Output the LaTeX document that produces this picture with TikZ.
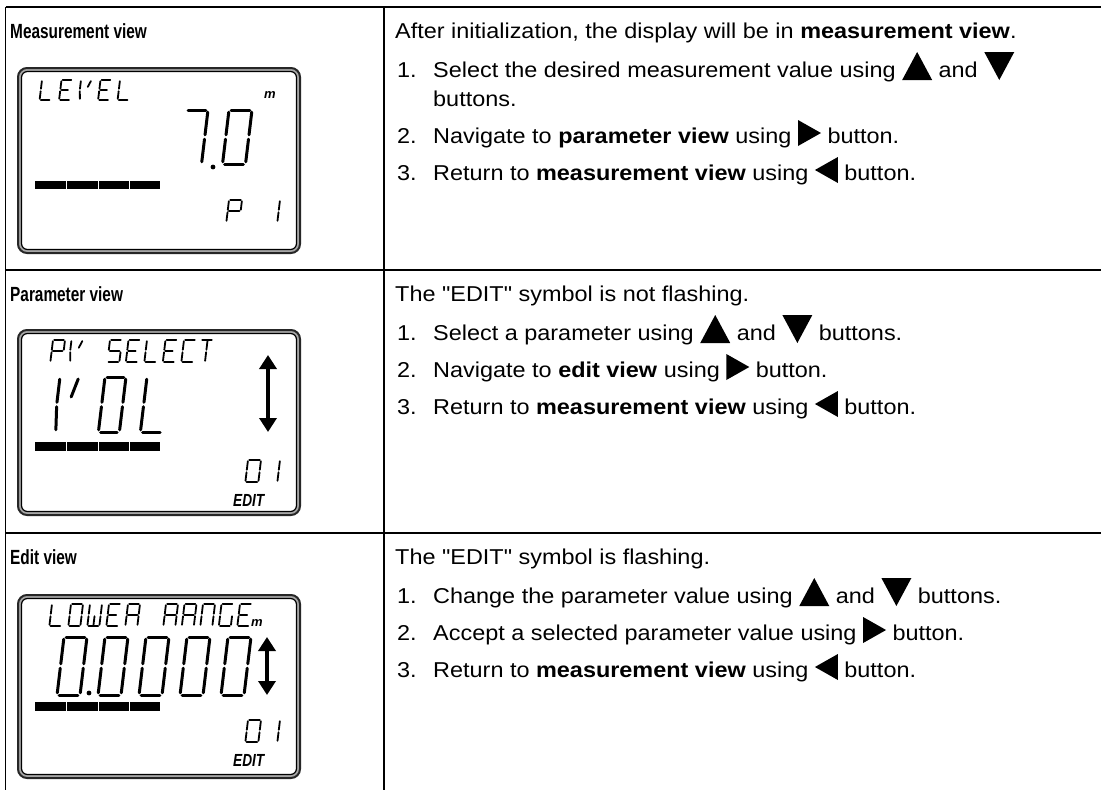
\documentclass[tikz,border=0pt]{standalone}
\usepackage{fontspec}
\setmainfont{Liberation Sans}
\newfontfamily\bodyfont[FakeStretch=1.09]{Liberation Sans}
\newfontfamily\narrowbold[FakeStretch=0.75]{Liberation Sans Bold}
\newfontfamily\editfont[FakeStretch=0.78]{Liberation Sans Bold Italic}
\usetikzlibrary{arrows.meta}

\tikzset{
  tbl/.style={line width=1.5pt, black},
  seg/.style={line width=1.8pt, line cap=round, line join=round, shorten <=1.2pt, shorten >=1.2pt},
  bigseg/.style={line width=3pt, line cap=round, line join=round, shorten <=2.2pt, shorten >=2.2pt},
  titletxt/.style={anchor=base west, inner sep=0pt, font=\narrowbold\fontsize{20.5}{24}\selectfont},
  bodytxt/.style={anchor=base west, inner sep=0pt, font=\bodyfont\fontsize{21.5}{28}\selectfont},
  edittxt/.style={anchor=base west, inner sep=0pt, font=\editfont\fontsize{17.5}{19}\selectfont},
  unittxt/.style={anchor=base west, inner sep=0pt, font=\bfseries\itshape\fontsize{13}{14}\selectfont},
  lcdouter/.style={draw=black!85, fill=black!35, line width=2pt, rounded corners=9pt},
  lcdinner/.style={draw=black, fill=white, line width=1.2pt, rounded corners=6pt},
  updown/.style={line width=3.8pt, {Triangle[width=17pt,length=14pt]}-{Triangle[width=17pt,length=14pt]}},
}

% segment lists (normalised, y downwards)
\def\gL{0/0/0/.5, 0/.5/0/1, 0/1/1/1}
\def\gE{0/0/1/0, 0/0/0/.5, 0/.5/0/1, 0/1/1/1, 0/.5/.8/.5}
\def\gV{0/0/0/.5, 0/.5/.12/1, .95/0/.65/.4}
\def\gP{0/0/1/0, 1/0/1/.5, 0/0/0/.5, 0/.5/0/1, 0/.5/1/.5}
\def\gOne{1/0/1/.5, 1/.5/1/1}
\def\gS{0/0/1/0, 0/0/0/.5, 0/.5/1/.5, 1/.5/1/1, 0/1/1/1}
\def\gC{0/0/1/0, 0/0/0/.5, 0/.5/0/1, 0/1/1/1}
\def\gT{0/0/1/0, .55/0/.55/.5, .55/.5/.55/1}
\def\gZero{0/0/1/0, 1/0/1/.5, 1/.5/1/1, 0/1/1/1, 0/.5/0/1, 0/0/0/.5}
\def\gSeven{0/0/1/0, 1/0/1/.5, 1/.5/1/1}
\def\gW{0/0/0/.5, 0/.5/0/1, 0/1/1/1, 1/.5/1/1, 1/0/1/.5, .5/.5/.5/1}
\def\gR{0/0/1/0, 1/0/1/.5, 0/0/0/.5, 0/.5/0/1, 0/.5/1/.5, 1/.5/1/1}
\def\gN{0/0/1/0, 1/0/1/.5, 1/.5/1/1, 0/0/0/.5, 0/.5/0/1}
\def\gG{0/0/1/0, 0/0/0/.5, 0/.5/0/1, 0/1/1/1, 1/.5/1/1}

% #1 style, #2 x, #3 y (top left), #4 width, #5 height, #6 segment list
\newcommand{\lcdglyph}[6]{%
  \begin{scope}[shift={(#2,#3)}, xslant=0.12]
    \foreach \xa/\ya/\xb/\yb in #6 {\draw[#1] (\xa*#4,\ya*#5) -- (\xb*#4,\yb*#5);}
  \end{scope}}

\newcommand{\lcdbar}[1]{%
  \fill (35,#1) rectangle (66,#1+8.5);
  \fill (67.2,#1) rectangle (97.5,#1+8.5);
  \fill (98.7,#1) rectangle (128.8,#1+8.5);
  \fill (130,#1) rectangle (160,#1+8.5);}

\newcommand{\tup}{\tikz[x=1pt,y=1pt,baseline=0pt]\fill (0,-3)--(15,25)--(30,-3)--cycle;}
\newcommand{\tdown}{\tikz[x=1pt,y=1pt,baseline=0pt]\fill (0,25)--(30,25)--(15,-3)--cycle;}
\newcommand{\tright}{\tikz[x=1pt,y=1pt,baseline=0pt]\fill (0,-3)--(0,23)--(23,10)--cycle;}
\newcommand{\tleft}{\tikz[x=1pt,y=1pt,baseline=0pt]\fill (23,-3)--(23,23)--(0,10)--cycle;}

\begin{document}
\begin{tikzpicture}[x=1pt,y=-1pt]
\useasboundingbox (0,0) rectangle (1101,790);
\fill[white] (0,0) rectangle (1101,790);

% table grid
\draw[tbl] (5.5,7) -- (1101,7);
\draw[tbl] (5.5,7) -- (5.5,790);
\draw[tbl] (384,7) -- (384,790);
\draw[tbl] (5.5,270) -- (1101,270);
\draw[tbl] (5.5,533) -- (1101,533);

% ---------------- row 1 ----------------
\node[titletxt] (t1) at (10,38) {Measurement view};
\draw[lcdouter] (18,68) rectangle (300,253);
\draw[lcdinner] (21.5,71.5) rectangle (296.5,249.5);
\lcdglyph{seg}{42}{80}{11}{20}{\gL}
\lcdglyph{seg}{61.5}{80}{11}{20}{\gE}
\lcdglyph{seg}{81}{80}{11}{20}{\gV}
\lcdglyph{seg}{100.5}{80}{11}{20}{\gE}
\lcdglyph{seg}{120}{80}{11}{20}{\gL}
\node[unittxt] (u1) at (264,98) {m};
\lcdglyph{bigseg}{186}{110}{22}{54}{\gSeven}
\fill (213,167) circle (2.4);
\lcdglyph{bigseg}{229}{110}{23}{54}{\gZero}
\lcdbar{180.5}
\lcdglyph{seg}{229}{200}{13}{22}{\gP}
\lcdglyph{seg}{267}{200}{13}{22}{\gOne}

\node[bodytxt] (r1l0) at (395,38) {After initialization, the display will be in \textbf{measurement view}.};
\node[bodytxt] (r1n1) at (397,77) {1.};
\node[bodytxt] (r1i1) at (433,77) {Select the desired measurement value using \tup{} and \tdown};
\node[bodytxt] (r1i1b) at (433,106) {buttons.};
\node[bodytxt] (r1n2) at (397,143) {2.};
\node[bodytxt] (r1i2) at (433,143) {Navigate to \textbf{parameter view} using \tright{} button.};
\node[bodytxt] (r1n3) at (397,180) {3.};
\node[bodytxt] (r1i3) at (433,180) {Return to \textbf{measurement view} using \tleft{} button.};

% ---------------- row 2 ----------------
\node[titletxt] (t2) at (10,301) {Parameter view};
\draw[lcdouter] (18,330) rectangle (300,515);
\draw[lcdinner] (21.5,333.5) rectangle (296.5,511.5);
\lcdglyph{seg}{53}{340}{12}{22}{\gP}
\lcdglyph{seg}{71.5}{340}{12}{22}{\gV}
\lcdglyph{seg}{110}{340}{12}{22}{\gS}
\lcdglyph{seg}{128.5}{340}{12}{22}{\gE}
\lcdglyph{seg}{147}{340}{12}{22}{\gL}
\lcdglyph{seg}{165.5}{340}{12}{22}{\gE}
\lcdglyph{seg}{184}{340}{12}{22}{\gC}
\lcdglyph{seg}{201}{340}{12}{22}{\gT}
\lcdglyph{bigseg}{60}{377}{20}{55}{\gV}
\lcdglyph{bigseg}{105}{377}{21}{55}{\gZero}
\lcdglyph{bigseg}{147}{377}{22}{55}{\gL}
\coordinate (a2t) at (268,355);
\coordinate (a2b) at (268,432);
\draw[updown] (a2t) -- (a2b);
\lcdbar{442}
\lcdglyph{seg}{248}{460}{13}{22}{\gZero}
\lcdglyph{seg}{267}{460}{13}{22}{\gOne}
\node[edittxt] (e2) at (233,506) {EDIT};

\node[bodytxt] (r2l0) at (395,301) {The "EDIT" symbol is not flashing.};
\node[bodytxt] (r2n1) at (397,340) {1.};
\node[bodytxt] (r2i1) at (433,340) {Select a parameter using \tup{} and \tdown{} buttons.};
\node[bodytxt] (r2n2) at (397,377) {2.};
\node[bodytxt] (r2i2) at (433,377) {Navigate to \textbf{edit view} using \tright{} button.};
\node[bodytxt] (r2n3) at (397,414) {3.};
\node[bodytxt] (r2i3) at (433,414) {Return to \textbf{measurement view} using \tleft{} button.};

% ---------------- row 3 ----------------
\node[titletxt] (t3) at (10,564) {Edit view};
\draw[lcdouter] (18,595) rectangle (300,778);
\draw[lcdinner] (21.5,598.5) rectangle (296.5,774.5);
\lcdglyph{seg}{52}{604}{12}{22}{\gL}
\lcdglyph{seg}{71}{604}{12}{22}{\gZero}
\lcdglyph{seg}{90}{604}{12}{22}{\gW}
\lcdglyph{seg}{109}{604}{12}{22}{\gE}
\lcdglyph{seg}{128}{604}{12}{22}{\gR}
\lcdglyph{seg}{166}{604}{12}{22}{\gR}
\lcdglyph{seg}{184.5}{604}{12}{22}{\gR}
\lcdglyph{seg}{203}{604}{12}{22}{\gN}
\lcdglyph{seg}{221.5}{604}{12}{22}{\gG}
\lcdglyph{seg}{240}{604}{12}{22}{\gE}
\node[unittxt] (u3) at (251,626) {m};
\lcdglyph{bigseg}{64}{637}{23}{58}{\gZero}
\fill (89,693) circle (2.4);
\lcdglyph{bigseg}{105}{637}{23}{58}{\gZero}
\lcdglyph{bigseg}{146}{637}{23}{58}{\gZero}
\lcdglyph{bigseg}{187}{637}{23}{58}{\gZero}
\lcdglyph{bigseg}{228}{637}{23}{58}{\gZero}
\coordinate (a3t) at (267,637);
\coordinate (a3b) at (267,695);
\draw[updown] (a3t) -- (a3b);
\lcdbar{702}
\lcdglyph{seg}{248}{720}{13}{22}{\gZero}
\lcdglyph{seg}{267}{720}{13}{22}{\gOne}
\node[edittxt] (e3) at (233,766) {EDIT};

\node[bodytxt] (r3l0) at (395,564) {The "EDIT" symbol is flashing.};
\node[bodytxt] (r3n1) at (397,603) {1.};
\node[bodytxt] (r3i1) at (433,603) {Change the parameter value using \tup{} and \tdown{} buttons.};
\node[bodytxt] (r3n2) at (397,640) {2.};
\node[bodytxt] (r3i2) at (433,640) {Accept a selected parameter value using \tright{} button.};
\node[bodytxt] (r3n3) at (397,677) {3.};
\node[bodytxt] (r3i3) at (433,677) {Return to \textbf{measurement view} using \tleft{} button.};
\end{tikzpicture}
\end{document}
